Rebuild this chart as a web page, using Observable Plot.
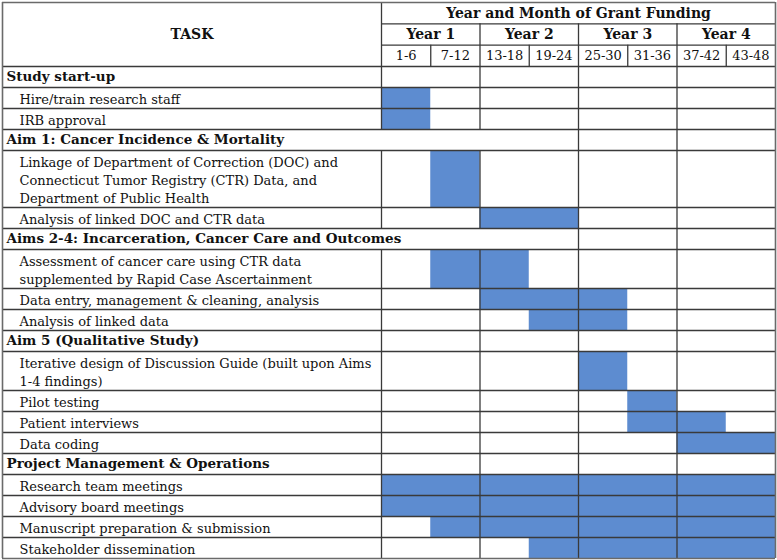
<!DOCTYPE html>
<html>
<head>
<meta charset="utf-8">
<script src="https://cdn.jsdelivr.net/npm/d3@7"></script>
<script src="https://cdn.jsdelivr.net/npm/@observablehq/plot@0.6"></script>
<style>
  html, body { margin: 0; padding: 0; background: #fff; }
  svg { display: block; }
</style>
</head>
<body>
<div id="chart"></div>
<script>
// ---------- data ----------
const tableTitle = "Year and Month of Grant Funding";
const taskHeader = "TASK";
const yearLabels = ["Year 1", "Year 2", "Year 3", "Year 4"];
const periodLabels = ["1-6", "7-12", "13-18", "19-24", "25-30", "31-36", "37-42", "43-48"];
const periodStart = [1, 7, 13, 19, 25, 31, 37, 43];
const periodEnd = [6, 12, 18, 24, 30, 36, 42, 48];

const taskLabels = [
  "Study start-up",
  "Hire/train research staff",
  "IRB approval",
  "Aim 1: Cancer Incidence & Mortality",
  "Linkage of Department of Correction (DOC) and\nConnecticut Tumor Registry (CTR) Data, and\nDepartment of Public Health",
  "Analysis of linked DOC and CTR data",
  "Aims 2-4: Incarceration, Cancer Care and Outcomes",
  "Assessment of cancer care using CTR data\nsupplemented by Rapid Case Ascertainment",
  "Data entry, management & cleaning, analysis",
  "Analysis of linked data",
  "Aim 5 (Qualitative Study)",
  "Iterative design of Discussion Guide (built upon Aims\n1-4 findings)",
  "Pilot testing",
  "Patient interviews",
  "Data coding",
  "Project Management & Operations",
  "Research team meetings",
  "Advisory board meetings",
  "Manuscript preparation & submission",
  "Stakeholder dissemination"
];
const sectionHeaders = [
  "Study start-up",
  "Aim 1: Cancer Incidence & Mortality",
  "Aims 2-4: Incarceration, Cancer Care and Outcomes",
  "Aim 5 (Qualitative Study)",
  "Project Management & Operations"
];
// section header cells merged across the first two years
const mergedHeaders = [
  "Aim 1: Cancer Incidence & Mortality",
  "Aims 2-4: Incarceration, Cancer Care and Outcomes"
];
// first and last month of each task's funded period (null = heading row)
const startMonth = [null, 1, 1, null, 7, 13, null, 7, 13, 19, null, 25, 31, 31, 37, null, 1, 1, 7, 19];
const endMonth   = [null, 6, 6, null, 12, 24, null, 18, 30, 30, null, 30, 36, 42, 48, null, 48, 48, 48, 48];

// ---------- layout ----------
const barColor = "#5d8cd0";
const lineColor = "#3a3a3a";
const borderColor = "#6a6a6a";
const lineUnit = 18, rowPad = 3;
const headerH = 64, hRow = headerH / 3;
const xPix0 = 2, xPixTask = 381, xPixEnd = 775;
const xLeft = -48 * (xPixTask - xPix0) / (xPixEnd - xPixTask);

const rows = [];
let yCur = headerH;
taskLabels.forEach((label, i) => {
  const n = label.split("\n").length;
  const h = n * lineUnit + rowPad;
  rows.push({
    label,
    top: yCur,
    bottom: yCur + h,
    section: sectionHeaders.includes(label),
    merged: mergedHeaders.includes(label),
    start: startMonth[i],
    end: endMonth[i]
  });
  yCur += h;
});
const totalH = yCur;

const bars = rows.filter(r => r.start != null);

// horizontal lines
const hLines = [
  {y: hRow, x1: 0, x2: 48},
  {y: 2 * hRow, x1: 0, x2: 48},
  {y: headerH, x1: xLeft, x2: 48},
  ...rows.slice(0, -1).map(r => ({y: r.bottom, x1: xLeft, x2: 48}))
];
const borderH = [{y: 0, x1: xLeft, x2: 48}, {y: totalH, x1: xLeft, x2: 48}];
const borderV = [{x: xLeft, y1: 0, y2: totalH}, {x: 48, y1: 0, y2: totalH}];

// vertical lines
const vLines = [];
vLines.push({x: 0, y1: 0, y2: headerH});
[12, 24, 36].forEach(x => vLines.push({x, y1: hRow, y2: headerH}));
periodEnd.slice(0, -1).filter(m => m % 12 !== 0).forEach(x => vLines.push({x, y1: 2 * hRow, y2: headerH}));
rows.forEach(r => {
  [0, 12, 24, 36].forEach(x => {
    if (r.merged && x < 24) return;
    vLines.push({x, y1: r.top, y2: r.bottom});
  });
});

const yearData = yearLabels.map((label, i) => ({label, x: i * 12 + 6}));
const periodData = periodLabels.map((label, i) => ({label, x: (periodStart[i] - 1 + periodEnd[i]) / 2}));

const chart = Plot.plot({
  width: 777,
  height: 560,
  margin: 0,
  x: {domain: [0, 48], range: [xPixTask, xPixEnd], axis: null},
  y: {domain: [0, totalH], range: [2, 2 + totalH], axis: null},
  style: {fontFamily: "'DejaVu Serif', serif", fontSize: "13px", background: "#fff", color: "#111"},
  marks: [
    Plot.rect(bars, {x1: d => d.start - 1, x2: d => d.end, y1: "top", y2: "bottom", fill: barColor}),
    Plot.ruleY(hLines, {y: "y", x1: "x1", x2: "x2", stroke: lineColor, strokeWidth: 1.3}),
    Plot.ruleX(vLines, {x: "x", y1: "y1", y2: "y2", stroke: lineColor, strokeWidth: 1.3}),
    Plot.ruleY(borderH, {y: "y", x1: "x1", x2: "x2", stroke: borderColor, strokeWidth: 1.6}),
    Plot.ruleX(borderV, {x: "x", y1: "y1", y2: "y2", stroke: borderColor, strokeWidth: 1.6}),
    Plot.text([tableTitle], {x: 24, y: hRow / 2, text: d => d, fontWeight: "bold", fontSize: 14}),
    Plot.text([taskHeader], {x: xLeft / 2, y: headerH / 2, text: d => d, fontWeight: "bold", fontSize: 14}),
    Plot.text(yearData, {x: "x", y: hRow * 1.5, text: "label", fontWeight: "bold", fontSize: 14}),
    Plot.text(periodData, {x: "x", y: hRow * 2.5, text: "label"}),
    Plot.text(rows.filter(r => r.section), {
      x: xLeft, dx: 4, y: r => (r.top + r.bottom) / 2, text: "label",
      textAnchor: "start", fontWeight: "bold", fontSize: 13.5
    }),
    Plot.text(rows.filter(r => !r.section), {
      x: xLeft, dx: 17, y: r => (r.top + r.bottom) / 2, text: "label",
      textAnchor: "start", lineHeight: lineUnit / 13
    })
  ]
});
document.getElementById("chart").appendChild(chart);
</script>
</body>
</html>
